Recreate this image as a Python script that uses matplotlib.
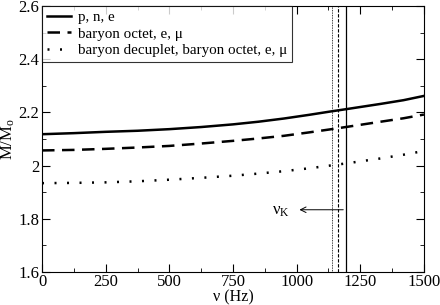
import numpy as np
import matplotlib.pyplot as plt
from matplotlib.ticker import MultipleLocator

plt.rcParams['font.family'] = ['Liberation Serif', 'DejaVu Serif']
plt.rcParams['mathtext.fontset'] = 'custom'
plt.rcParams['mathtext.rm'] = 'Liberation Serif'
plt.rcParams['mathtext.it'] = 'Liberation Serif:italic'

# frequency (Hz) and gravitational mass (solar masses)
nu = [0, 125, 250, 375, 500, 625, 750, 850, 950, 1050, 1130, 1200, 1330, 1420, 1500]
m_npe = [2.118, 2.122, 2.127, 2.131, 2.137, 2.145, 2.155, 2.165, 2.177,
         2.191, 2.203, 2.213, 2.232, 2.246, 2.262]
m_octet = [2.057, 2.059, 2.063, 2.068, 2.074, 2.083, 2.093, 2.102, 2.112,
           2.125, 2.136, 2.146, 2.165, 2.178, 2.192]
m_decuplet = [1.934, 1.935, 1.937, 1.941, 1.947, 1.954, 1.962, 1.970, 1.979,
              1.990, 2.000, 2.009, 2.027, 2.041, 2.055]

# Kepler frequencies for each composition
nu_k = [1194, 1163, 1140]

fig = plt.figure(figsize=(4.4, 3.05), dpi=100)
ax = fig.add_axes([0.0955, 0.1082, 0.868, 0.8721])

ax.plot(nu, m_npe, 'k-', lw=1.8, label='p, n, e')
ax.plot(nu, m_octet, 'k--', lw=1.8, dashes=(5, 3), label='baryon octet, e, μ')
ax.plot(nu, m_decuplet, 'k:', lw=1.8, dashes=(0.8, 4.2),
        label='baryon decuplet, baryon octet, e, μ')

ax.axvline(nu_k[0], color='k', lw=0.9)
ax.axvline(nu_k[1], color='k', lw=0.8, ls=(0, (3, 1.5)))
ax.axvline(nu_k[2], color='k', lw=0.6, ls=(0, (1, 1)))

ax.annotate('', xy=(1000, 1.834), xytext=(nu_k[0], 1.834),
            arrowprops=dict(arrowstyle='->', color='k', lw=0.7))
ax.text(975, 1.830, 'ν$_\\mathrm{K}$', ha='right', va='center', fontsize=12)

ax.set_xlim(0, 1500)
ax.set_ylim(1.6, 2.6)
ax.xaxis.set_major_locator(MultipleLocator(250))
ax.xaxis.set_minor_locator(MultipleLocator(125))
ax.yaxis.set_minor_locator(MultipleLocator(0.1))
ax.set_yticks([1.6, 1.8, 2.0, 2.2, 2.4, 2.6])
ax.set_yticklabels(['1.6', '1.8', '2', '2.2', '2.4', '2.6'])
ax.tick_params(which='both', direction='in', top=True, right=True, labelsize=12)
ax.tick_params(which='major', length=6)
ax.tick_params(which='minor', length=3)
ax.tick_params(axis='x', pad=1.5)
ax.tick_params(axis='y', pad=2)

ax.set_xlabel('ν (Hz)', fontsize=11.5, labelpad=-0.5)
ax.set_ylabel('M/M$_\\mathrm{o}$', fontsize=12, labelpad=1)

leg = ax.legend(loc='upper left', fontsize=10.8, frameon=True, fancybox=False,
                borderaxespad=0, handlelength=1.6, handletextpad=0.5,
                borderpad=0.3, labelspacing=0.2)
leg.get_frame().set_edgecolor('k')
leg.get_frame().set_linewidth(0.8)

fig.savefig('out.png', dpi=100)
